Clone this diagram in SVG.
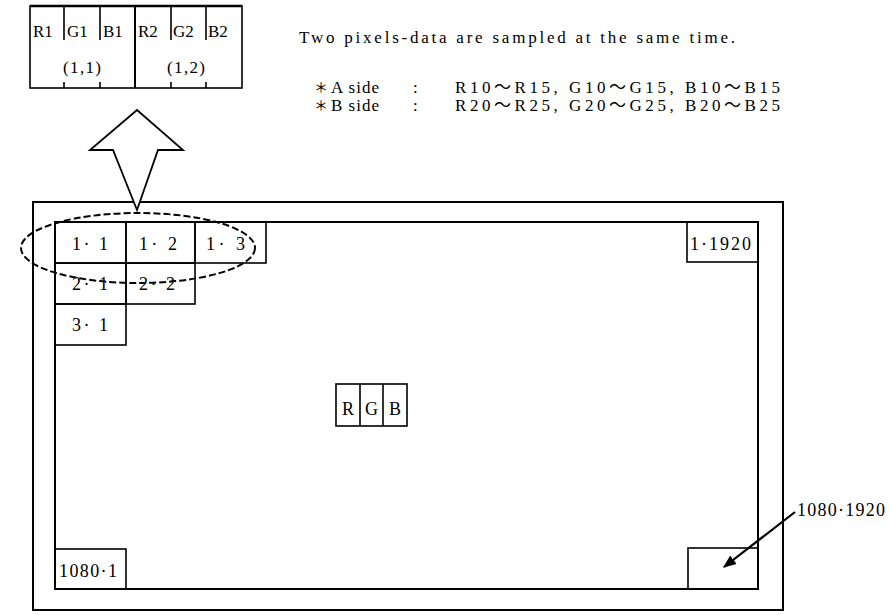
<svg xmlns="http://www.w3.org/2000/svg" width="889" height="615" viewBox="0 0 889 615">
<defs>
<style>
text{font-family:"Liberation Serif","Times New Roman","Noto Sans CJK JP",serif;fill:#000}
.c{font-size:18px}
.s{font-size:17px}
.t{font-size:17px}
.ast{font-size:14px}
.ln{fill:none;stroke:#000;stroke-width:1.6}
.fr{fill:none;stroke:#000;stroke-width:2}
</style>
<marker id="ah" viewBox="0 0 10 10" refX="9" refY="5" markerWidth="6" markerHeight="6" orient="auto" markerUnits="strokeWidth">
<path d="M0,1 L10,5 L0,9 z" fill="#000"/>
</marker>
</defs>
<rect width="889" height="615" fill="#fff"/>

<g id="sample-box">
<rect x="30" y="6" width="212" height="82" class="ln"/>
<line x1="30" y1="6" x2="242" y2="6" stroke="#000" stroke-width="2.5"/>
<line x1="135" y1="6" x2="135" y2="88" stroke="#000" stroke-width="2"/>
<g class="ln">
<line x1="64" y1="6" x2="64" y2="40"/><line x1="100" y1="6" x2="100" y2="40"/>
<line x1="171" y1="6" x2="171" y2="40"/><line x1="206" y1="6" x2="206" y2="40"/>
<line x1="64" y1="82" x2="64" y2="88"/><line x1="100" y1="82" x2="100" y2="88"/>
<line x1="171" y1="82" x2="171" y2="88"/><line x1="206" y1="82" x2="206" y2="88"/>
</g>
<text class="s" x="33" y="37">R1</text>
<text class="s" x="67" y="37">G1</text>
<text class="s" x="103" y="37">B1</text>
<text class="s" x="138" y="37">R2</text>
<text class="s" x="173" y="37">G2</text>
<text class="s" x="208" y="37">B2</text>
<text class="s" x="63" y="73" textLength="38" lengthAdjust="spacing">(1,1)</text>
<text class="s" x="167" y="73" textLength="38" lengthAdjust="spacing">(1,2)</text>
</g>

<g id="notes">
<text class="t" x="299" y="43" textLength="436" lengthAdjust="spacing">Two pixels-data are sampled at the same time.</text>
<text class="ast" x="314" y="92">＊</text>
<text class="t" x="331" y="93" letter-spacing="1">A side</text>
<text class="t" x="413" y="93">:</text>
<text class="t" x="455" y="93" textLength="325" lengthAdjust="spacing">R10～R15, G10～G15, B10～B15</text>
<text class="ast" x="314" y="110">＊</text>
<text class="t" x="331" y="111" letter-spacing="1">B side</text>
<text class="t" x="413" y="111">:</text>
<text class="t" x="455" y="111" textLength="325" lengthAdjust="spacing">R20～R25, G20～G25, B20～B25</text>
</g>

<g id="frame">
<rect x="33" y="202" width="750" height="408" class="fr"/>
<rect x="55" y="222" width="703" height="367" class="fr"/>
</g>

<g id="cell-1-1"><rect x="55" y="222" width="71" height="41" class="ln"/><text class="c" x="72" y="250" textLength="36" lengthAdjust="spacing">1· 1</text></g>
<g id="cell-1-2"><rect x="126" y="222" width="69" height="41" class="ln"/><text class="c" x="139" y="250" textLength="38" lengthAdjust="spacing">1· 2</text></g>
<g id="cell-1-3"><rect x="195" y="222" width="71" height="41" class="ln"/><text class="c" x="206" y="250" textLength="39" lengthAdjust="spacing">1· 3</text></g>
<g id="cell-2-1"><rect x="55" y="263" width="71" height="41" class="ln"/><text class="c" x="72" y="290" textLength="36" lengthAdjust="spacing">2· 1</text></g>
<g id="cell-2-2"><rect x="126" y="263" width="69" height="41" class="ln"/><text class="c" x="139" y="290" textLength="36" lengthAdjust="spacing">2· 2</text></g>
<g id="cell-3-1"><rect x="55" y="304" width="71" height="41" class="ln"/><text class="c" x="72" y="331" textLength="36" lengthAdjust="spacing">3· 1</text></g>
<g id="cell-1-1920"><rect x="687" y="222" width="71" height="40" class="ln"/><text class="c" x="690" y="250" textLength="61" lengthAdjust="spacing">1·1920</text></g>
<g id="cell-1080-1"><rect x="55" y="549" width="71" height="40" class="ln"/><text class="c" x="59" y="577" textLength="58" lengthAdjust="spacing">1080·1</text></g>
<g id="cell-1080-1920"><rect x="688" y="548" width="70" height="41" class="ln"/></g>

<g id="rgb">
<rect x="336" y="384" width="71" height="42" class="ln"/>
<line x1="360" y1="384" x2="360" y2="426" class="ln"/>
<line x1="383" y1="384" x2="383" y2="426" class="ln"/>
<text class="c" x="348" y="415" text-anchor="middle">R</text>
<text class="c" x="371.5" y="415" text-anchor="middle">G</text>
<text class="c" x="395" y="415" text-anchor="middle">B</text>
</g>

<g id="selection">
<ellipse cx="138" cy="248" rx="117" ry="35" fill="none" stroke="#000" stroke-width="2" stroke-dasharray="7 3"/>
</g>

<g id="connectors">
<polygon points="137,110 183,150 158,150 137,210 113,150 90,150" fill="#fff" stroke="#000" stroke-width="1.8" stroke-linejoin="miter"/>
<line x1="795" y1="512" x2="724" y2="567" stroke="#000" stroke-width="2.2" marker-end="url(#ah)"/>
<text class="c" x="797" y="516" textLength="88" lengthAdjust="spacing">1080·1920</text>
</g>
</svg>
